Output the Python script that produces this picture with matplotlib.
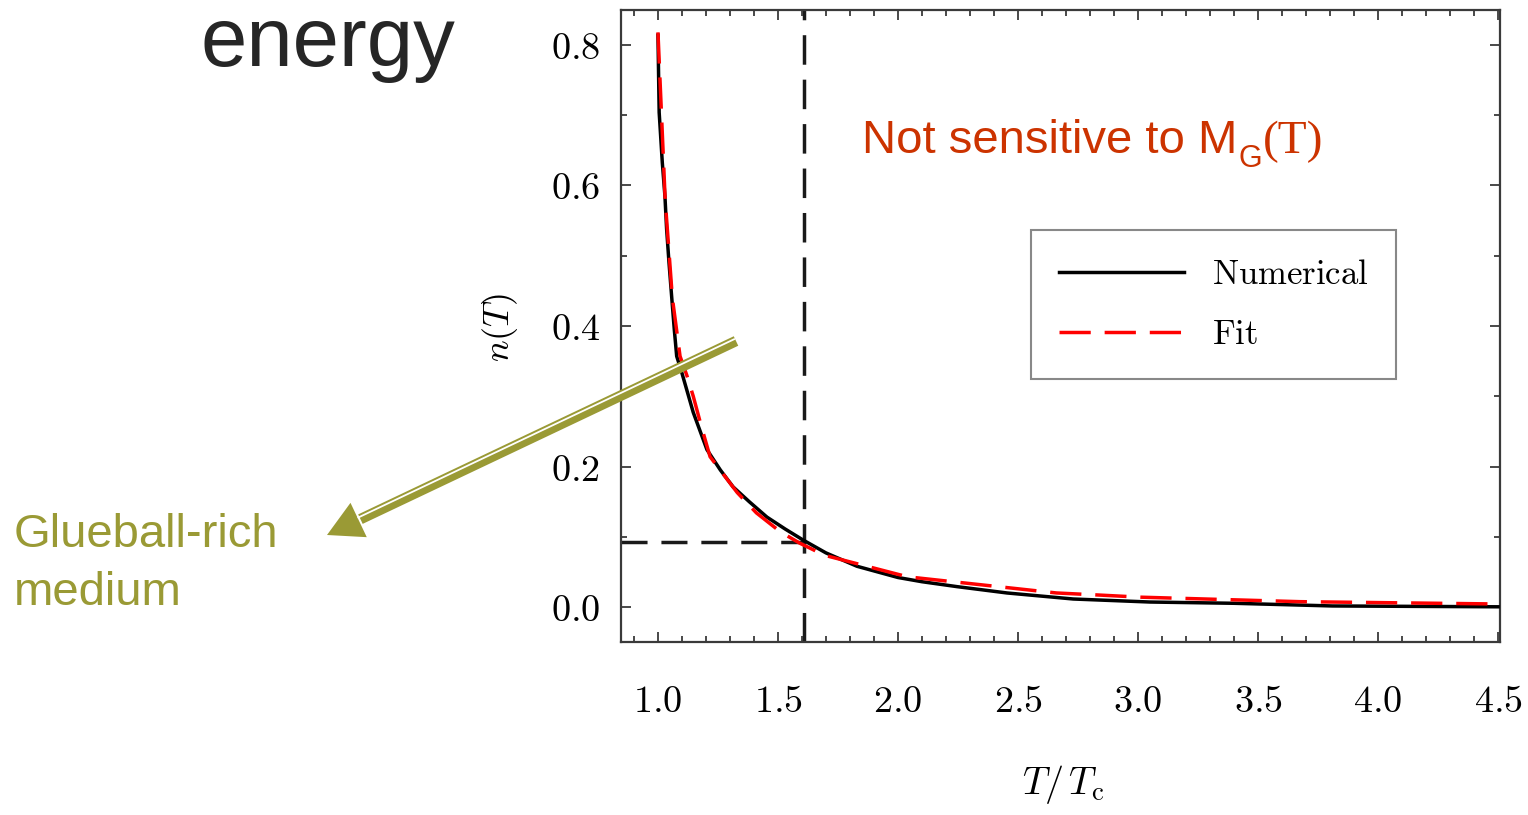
import matplotlib
matplotlib.use("Agg")
import matplotlib.pyplot as plt
import numpy as np
from matplotlib.patches import Polygon
from matplotlib.ticker import FuncFormatter, MultipleLocator

# n(T) from the numerical solution and from the fit
T_num = [1.000, 1.005, 1.018, 1.029, 1.036, 1.046, 1.057, 1.068, 1.078, 1.099,
         1.147, 1.204, 1.260, 1.313, 1.380, 1.454, 1.530, 1.604, 1.700, 1.829,
         2.000, 2.100, 2.246, 2.454, 2.730, 3.050, 3.400, 3.810, 4.500]
n_num = [0.814, 0.704, 0.633, 0.585, 0.538, 0.490, 0.442, 0.395, 0.357, 0.334,
         0.277, 0.224, 0.195, 0.171, 0.150, 0.128, 0.111, 0.0955, 0.077, 0.058,
         0.042, 0.036, 0.029, 0.020, 0.0114, 0.0071, 0.0053, 0.0015, 0.0003]

T_fit = [1.000, 1.030, 1.060, 1.092, 1.120, 1.147, 1.180, 1.217, 1.290, 1.330,
         1.410, 1.510, 1.590, 1.650, 1.690, 2.040, 2.310, 2.660, 2.840, 3.010,
         3.675, 4.500]
n_fit = [0.818, 0.580, 0.440, 0.357, 0.330, 0.300, 0.258, 0.214, 0.181, 0.163,
         0.134, 0.107, 0.091, 0.081, 0.074, 0.043, 0.033, 0.020, 0.017, 0.014,
         0.0076, 0.0043]

# marked point (crossover)
T_mark = 1.61
n_mark = 0.092

x_ticks = [1.0, 1.5, 2.0, 2.5, 3.0, 3.5, 4.0, 4.5]
y_ticks = [0.0, 0.2, 0.4, 0.6, 0.8]
x_lim = (0.846, 4.508)
y_lim = (-0.0498, 0.8498)

OLIVE = "#9a9a35"
ORANGE = "#cc3300"

plt.rcParams["mathtext.fontset"] = "cm"
plt.rcParams["font.family"] = ["Liberation Sans", "DejaVu Sans"]

W, H = 1528, 815
fig = plt.figure(figsize=(W / 100, H / 100), dpi=100)
ax = fig.add_axes([621 / W, 173 / H, 879 / W, 632 / H])

ax.plot(T_num, n_num, color="black", lw=2.5, zorder=3, label=r"$\mathrm{Numerical}$")
ax.plot(T_fit, n_fit, color="red", lw=2.5, ls=(0, (9, 4)), zorder=4,
        label=r"$\mathrm{Fit}$")
ax.axvline(T_mark, color="#1a1a1a", lw=2.5, ls=(0, (8.5, 4.3)), zorder=2)
ax.hlines(n_mark, x_lim[0], T_mark, color="#1a1a1a", lw=2.5,
          ls=(0, (7.5, 4)), zorder=2)

ax.set_xlim(*x_lim)
ax.set_ylim(*y_lim)
ax.set_xticks(x_ticks)
ax.set_yticks(y_ticks)
ax.xaxis.set_minor_locator(MultipleLocator(0.1))
ax.yaxis.set_minor_locator(MultipleLocator(0.1))
fmt = FuncFormatter(lambda v, _: f"${v:.1f}$")
ax.xaxis.set_major_formatter(fmt)
ax.yaxis.set_major_formatter(fmt)

for s in ax.spines.values():
    s.set_color("#3a3a3a")
    s.set_linewidth(1.6)
ax.tick_params(which="both", direction="in", top=True, right=True,
               color="#3a3a3a", width=1.3)
ax.tick_params(which="major", length=7.5, labelsize=27.5)
ax.tick_params(which="minor", length=4.5)
ax.tick_params(axis="x", pad=30)
ax.tick_params(axis="y", pad=15)

ax.set_xlabel(r"$T/\,T_\mathrm{c}$", fontsize=27.5)
ax.set_ylabel(r"$n(T)$", fontsize=26)
ax.xaxis.set_label_coords(0.503, -0.226)
ax.xaxis.label.set_va("center")
ax.yaxis.set_label_coords(-0.138, 0.498)
ax.yaxis.label.set_va("center")

leg = ax.legend(loc="upper left", bbox_to_anchor=(0.4664, 0.652), fontsize=25,
                frameon=True, fancybox=False, framealpha=1, borderpad=0.8,
                handlelength=3.6, handletextpad=0.8, labelspacing=0.8,
                borderaxespad=0)
leg.get_frame().set_edgecolor("#888888")
leg.get_frame().set_linewidth(1.5)

# overlay in image pixels for the slide annotations
ov = fig.add_axes([0, 0, 1, 1], zorder=10)
ov.set_xlim(0, W)
ov.set_ylim(H, 0)
ov.axis("off")

ov.text(200, 66, "energy", fontsize=60, color="#262626", va="baseline")
ov.text(14, 547, "Glueball-rich", fontsize=34, color=OLIVE, va="baseline")
ov.text(14, 605, "medium", fontsize=34, color=OLIVE, va="baseline")

# "Not sensitive to M_G(T)" built from pieces
renderer = fig.canvas.get_renderer()
inv = ov.transData.inverted()
t1 = ov.text(862, 153, "Not sensitive to M", fontsize=34, color=ORANGE,
             va="baseline")
x1 = inv.transform(t1.get_window_extent(renderer))[1][0]
t2 = ov.text(x1 + 1, 167, "G", fontsize=22, color=ORANGE, va="baseline")
x2 = inv.transform(t2.get_window_extent(renderer))[1][0]
ov.text(x2 + 1, 153, "(T)", fontsize=34, color=ORANGE, va="baseline",
        family="Liberation Serif")

# double-line arrow
arrow_start = np.array([736.0, 341.0])
arrow_tip = np.array([327.0, 535.0])
head_len, head_half = 35.0, 19.0
u = (arrow_tip - arrow_start) / np.hypot(*(arrow_tip - arrow_start))
nrm = np.array([-u[1], u[0]])
if nrm[1] < 0:
    nrm = -nrm
base = arrow_tip - head_len * u
px = 0.72
ov.plot([arrow_start[0], base[0] - 2 * u[0]], [arrow_start[1], base[1] - 2 * u[1]],
        color=OLIVE, lw=10.5 * px, solid_capstyle="butt")
gap0 = arrow_start - 2.4 * nrm
gap1 = base - 2.4 * nrm
ov.plot([gap0[0], gap1[0]], [gap0[1], gap1[1]], color="white", lw=1.8 * px,
        solid_capstyle="butt")
head = Polygon([arrow_tip, base + head_half * nrm, base - head_half * nrm],
               closed=True, color=OLIVE, lw=0)
ov.add_patch(head)

fig.savefig("out.png", dpi=100)
